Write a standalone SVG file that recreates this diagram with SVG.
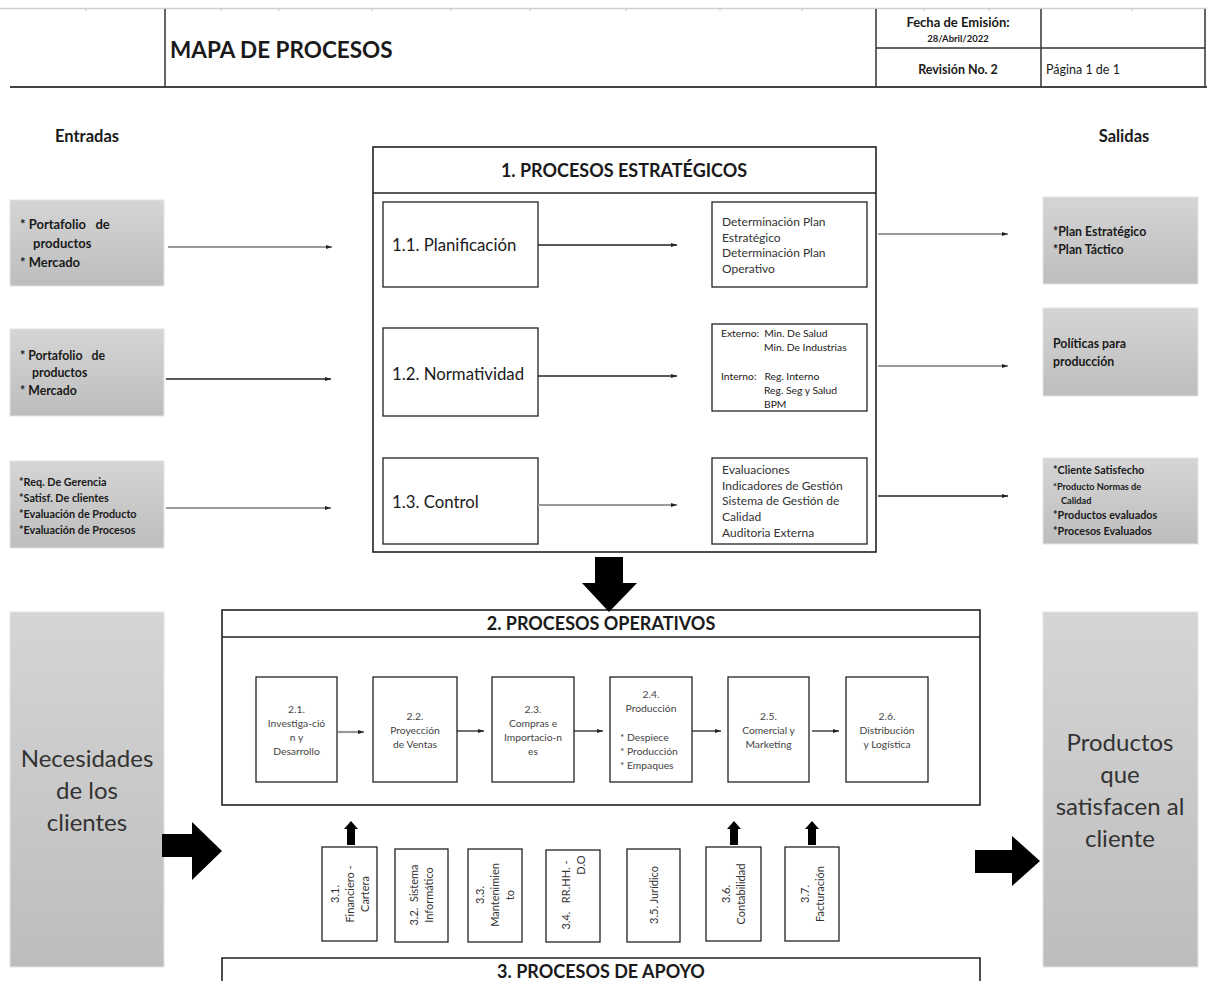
<svg xmlns="http://www.w3.org/2000/svg" width="1207" height="981" viewBox="0 0 1207 981">
<defs>
<linearGradient id="gb" x1="0" y1="0" x2="0" y2="1">
<stop offset="0" stop-color="#d5d5d5"/><stop offset="1" stop-color="#bdbdbd"/>
</linearGradient>
<marker id="ah" markerWidth="6" markerHeight="6" refX="6" refY="3" orient="auto" markerUnits="userSpaceOnUse">
<path d="M0,1 L6,3 L0,5 z" fill="#222"/>
</marker>
<style>
text{font-family:Lato,"Open Sans","Liberation Sans",sans-serif;fill:#1a1a1a;white-space:pre}
.b{font-weight:bold}
.gbox{fill:url(#gb);stroke:#e4e4e4;stroke-width:1}
.box{fill:#fff;stroke:#222;stroke-width:1.3}
.frame{fill:none;stroke:#222;stroke-width:1.6}
.lg{stroke:#9a9a9a;stroke-width:2.2;fill:none}
.ld{stroke:#222;stroke-width:1.3;fill:none}
.sm{font-size:10.3px;fill:#444}
.st{font-size:12px;fill:#333}
.su{font-size:11px;fill:#333}
.big{font-size:24px;fill:#333}
.tk{stroke:#c8c8c8;stroke-width:1}
</style>
</defs>

<g id="header">
<line x1="0" y1="8.5" x2="1207" y2="8.5" stroke="#cfcfcf" stroke-width="1.5"/>
<g class="tk">
<line x1="86" y1="8" x2="86" y2="11"/><line x1="221" y1="8" x2="221" y2="11"/><line x1="279" y1="8" x2="279" y2="11"/><line x1="372" y1="8" x2="372" y2="11"/><line x1="451" y1="8" x2="451" y2="11"/><line x1="530" y1="8" x2="530" y2="11"/><line x1="626" y1="8" x2="626" y2="11"/><line x1="720" y1="8" x2="720" y2="11"/><line x1="802" y1="8" x2="802" y2="11"/><line x1="924" y1="8" x2="924" y2="11"/><line x1="989" y1="8" x2="989" y2="11"/><line x1="1132" y1="8" x2="1132" y2="11"/>
</g>
<line x1="165" y1="9" x2="165" y2="87" stroke="#333" stroke-width="1.5"/>
<line x1="10" y1="87" x2="1207" y2="87" stroke="#444" stroke-width="2"/>
<line x1="876" y1="9" x2="876" y2="87" stroke="#333" stroke-width="1.5"/>
<line x1="1041" y1="9" x2="1041" y2="87" stroke="#333" stroke-width="1.5"/>
<line x1="1205" y1="9" x2="1205" y2="87" stroke="#333" stroke-width="1.5"/>
<line x1="876" y1="48" x2="1205" y2="48" stroke="#333" stroke-width="1.5"/>
<text x="170" y="58" class="b" font-size="22.5">MAPA DE PROCESOS</text>
<text x="958" y="27" class="b" font-size="13" text-anchor="middle">Fecha de Emisión:</text>
<text x="958" y="42" class="b" font-size="9.5" text-anchor="middle">28/Abril/2022</text>
<text x="958" y="74" class="b" font-size="12.5" text-anchor="middle">Revisión No. 2</text>
<text x="1046" y="74" font-size="12.5">Página 1 de 1</text>
</g>

<g id="labels">
<text x="87" y="142" class="b" font-size="16.5" text-anchor="middle">Entradas</text>
<text x="1124" y="142" class="b" font-size="16.5" text-anchor="middle">Salidas</text>
</g>

<g id="entrada1">
<rect x="10" y="200" width="154" height="86" class="gbox"/>
<text class="b" font-size="13"><tspan x="20" y="229">* Portafolio   de</tspan><tspan x="33" y="248">productos</tspan><tspan x="20" y="267">* Mercado</tspan></text>
</g>
<g id="entrada2">
<rect x="10" y="329" width="154" height="87" class="gbox"/>
<text class="b" font-size="12.3"><tspan x="20" y="360">* Portafolio   de</tspan><tspan x="32" y="377">productos</tspan><tspan x="20" y="395">* Mercado</tspan></text>
</g>
<g id="entrada3">
<rect x="10" y="461" width="154" height="87" class="gbox"/>
<text class="b" font-size="10.8"><tspan x="19" y="486">*Req. De Gerencia</tspan><tspan x="19" y="502">*Satisf. De clientes</tspan><tspan x="19" y="518">*Evaluación de Producto</tspan><tspan x="19" y="534">*Evaluación de Procesos</tspan></text>
</g>

<g id="estrategicos">
<rect x="373" y="147" width="503" height="405" class="frame"/>
<line x1="373" y1="193" x2="876" y2="193" stroke="#222" stroke-width="1.3"/>
<text x="624" y="177" class="b" font-size="18" text-anchor="middle">1. PROCESOS ESTRATÉGICOS</text>
</g>
<g id="p11"><rect x="383" y="202" width="155" height="85" class="box"/><text x="392" y="251" font-size="16.8">1.1. Planificación</text></g>
<g id="p12"><rect x="383" y="328" width="155" height="88" class="box"/><text x="392" y="380" font-size="16.8">1.2. Normatividad</text></g>
<g id="p13"><rect x="383" y="458" width="155" height="86" class="box"/><text x="392" y="508" font-size="16.8">1.3. Control</text></g>
<g id="r11"><rect x="712" y="202" width="155" height="85" class="box"/>
<text class="st"><tspan x="722" y="226">Determinación Plan</tspan><tspan x="722" y="242">Estratégico</tspan><tspan x="722" y="257">Determinación Plan</tspan><tspan x="722" y="273">Operativo</tspan></text></g>
<g id="r12"><rect x="712" y="324" width="155" height="87" class="box"/>
<text font-size="10.3" fill="#333"><tspan x="721" y="337">Externo:  Min. De Salud</tspan><tspan x="764" y="351">Min. De Industrias</tspan><tspan x="721" y="380">Interno:   Reg. Interno</tspan><tspan x="764" y="394">Reg. Seg y Salud</tspan><tspan x="764" y="408">BPM</tspan></text></g>
<g id="r13"><rect x="712" y="458" width="155" height="86" class="box"/>
<text class="st" font-size="12.2"><tspan x="722" y="474">Evaluaciones</tspan><tspan x="722" y="490">Indicadores de Gestión</tspan><tspan x="722" y="505">Sistema de Gestión de</tspan><tspan x="722" y="521">Calidad</tspan><tspan x="722" y="537">Auditoria Externa</tspan></text></g>

<g id="salida1"><rect x="1043" y="197" width="155" height="87" class="gbox"/>
<text class="b" font-size="12.3"><tspan x="1053" y="236">*Plan Estratégico</tspan><tspan x="1053" y="254">*Plan Táctico</tspan></text></g>
<g id="salida2"><rect x="1043" y="308" width="155" height="88" class="gbox"/>
<text class="b" font-size="12.3"><tspan x="1053" y="348">Políticas para</tspan><tspan x="1053" y="366">producción</tspan></text></g>
<g id="salida3"><rect x="1043" y="458" width="155" height="86" class="gbox"/>
<text class="b" font-size="10.8"><tspan x="1053" y="474">*Cliente Satisfecho</tspan><tspan x="1053" y="490" font-size="9.2">*Producto Normas de</tspan><tspan x="1061" y="504" font-size="9.2">Calidad</tspan><tspan x="1053" y="519">*Productos evaluados</tspan><tspan x="1053" y="535">*Procesos Evaluados</tspan></text></g>

<g id="operativos">
<rect x="222" y="610" width="758" height="195" class="frame"/>
<line x1="222" y1="637" x2="980" y2="637" stroke="#222" stroke-width="1.3"/>
<text x="601" y="630" class="b" font-size="18" text-anchor="middle">2. PROCESOS OPERATIVOS</text>
</g>
<g id="p21"><rect x="256" y="677" width="81" height="105" class="box"/>
<text class="sm" text-anchor="middle"><tspan x="296.5" y="713">2.1.</tspan><tspan x="296.5" y="727">Investiga-ció</tspan><tspan x="296.5" y="741">n y</tspan><tspan x="296.5" y="755">Desarrollo</tspan></text></g>
<g id="p22"><rect x="373" y="677" width="84" height="105" class="box"/>
<text class="sm" text-anchor="middle"><tspan x="415" y="720">2.2.</tspan><tspan x="415" y="734">Proyección</tspan><tspan x="415" y="748">de Ventas</tspan></text></g>
<g id="p23"><rect x="492" y="677" width="82" height="105" class="box"/>
<text class="sm" text-anchor="middle"><tspan x="533" y="713">2.3.</tspan><tspan x="533" y="727">Compras e</tspan><tspan x="533" y="741">Importacio-n</tspan><tspan x="533" y="755">es</tspan></text></g>
<g id="p24"><rect x="610" y="677" width="82" height="105" class="box"/>
<text class="sm" text-anchor="middle"><tspan x="651" y="698">2.4.</tspan><tspan x="651" y="712">Producción</tspan></text>
<text class="sm"><tspan x="620" y="741">* Despiece</tspan><tspan x="620" y="755">* Producción</tspan><tspan x="620" y="769">* Empaques</tspan></text></g>
<g id="p25"><rect x="728" y="677" width="81" height="105" class="box"/>
<text class="sm" text-anchor="middle"><tspan x="768.5" y="720">2.5.</tspan><tspan x="768.5" y="734">Comercial y</tspan><tspan x="768.5" y="748">Marketing</tspan></text></g>
<g id="p26"><rect x="846" y="677" width="82" height="105" class="box"/>
<text class="sm" text-anchor="middle"><tspan x="887" y="720">2.6.</tspan><tspan x="887" y="734">Distribución</tspan><tspan x="887" y="748">y Logística</tspan></text></g>

<g id="necesidades"><rect x="10" y="612" width="154" height="355" class="gbox"/>
<text class="big" text-anchor="middle"><tspan x="87" y="767">Necesidades</tspan><tspan x="87" y="799">de los</tspan><tspan x="87" y="831">clientes</tspan></text></g>
<g id="productos"><rect x="1043" y="612" width="155" height="355" class="gbox"/>
<text class="big" text-anchor="middle"><tspan x="1120" y="751">Productos</tspan><tspan x="1120" y="783">que</tspan><tspan x="1120" y="815">satisfacen al</tspan><tspan x="1120" y="847">cliente</tspan></text></g>

<g id="s31"><rect x="322" y="847" width="55" height="94" class="box"/>
<text class="su" text-anchor="middle" transform="translate(350,894) rotate(-90)"><tspan x="0" y="-11">3.1.</tspan><tspan x="0" y="4">Financiero -</tspan><tspan x="0" y="19">Cartera</tspan></text></g>
<g id="s32"><rect x="395" y="849" width="53" height="93" class="box"/>
<text class="su" text-anchor="middle" transform="translate(421,895) rotate(-90)"><tspan x="0" y="-3">3.2.  Sistema</tspan><tspan x="0" y="12">Informático</tspan></text></g>
<g id="s33"><rect x="468" y="849" width="54" height="93" class="box"/>
<text class="su" text-anchor="middle" transform="translate(495,895) rotate(-90)"><tspan x="0" y="-11">3.3.</tspan><tspan x="0" y="4">Mantenimien</tspan><tspan x="0" y="19">to</tspan></text></g>
<g id="s34"><rect x="546" y="850" width="54" height="92" class="box"/>
<text class="su" transform="translate(573,895) rotate(-90)"><tspan x="0" y="-3" text-anchor="middle">3.4.   RR.HH. -</tspan><tspan x="30" y="12" text-anchor="middle">D.O</tspan></text></g>
<g id="s35"><rect x="627" y="849" width="53" height="93" class="box"/>
<text class="su" text-anchor="middle" transform="translate(654,895) rotate(-90)"><tspan x="0" y="4">3.5. Jurídico</tspan></text></g>
<g id="s36"><rect x="706" y="847" width="55" height="94" class="box"/>
<text class="su" text-anchor="middle" transform="translate(733,894) rotate(-90)"><tspan x="0" y="-3">3.6.</tspan><tspan x="0" y="12">Contabilidad</tspan></text></g>
<g id="s37"><rect x="785" y="847" width="54" height="94" class="box"/>
<text class="su" text-anchor="middle" transform="translate(812,894) rotate(-90)"><tspan x="0" y="-3">3.7.</tspan><tspan x="0" y="12">Facturación</tspan></text></g>

<g id="apoyo">
<path d="M222,981 V958 H980 V981" class="frame"/>
<text x="601" y="978" class="b" font-size="18" text-anchor="middle">3. PROCESOS DE APOYO</text>
</g>

<g id="connectors">
<line x1="168" y1="247" x2="332" y2="247" class="lg" marker-end="url(#ah)"/>
<line x1="166" y1="379" x2="331" y2="379" class="ld" marker-end="url(#ah)"/>
<line x1="166" y1="508" x2="331" y2="508" class="lg" marker-end="url(#ah)"/>
<line x1="538" y1="245" x2="677" y2="245" class="ld" marker-end="url(#ah)"/>
<line x1="538" y1="376" x2="677" y2="376" class="ld" marker-end="url(#ah)"/>
<line x1="538" y1="505" x2="677" y2="505" class="lg" marker-end="url(#ah)"/>
<line x1="878" y1="234" x2="1008" y2="234" class="lg" marker-end="url(#ah)"/>
<line x1="878" y1="366" x2="1008" y2="366" class="lg" marker-end="url(#ah)"/>
<line x1="878" y1="496" x2="1008" y2="496" class="ld" marker-end="url(#ah)"/>
<line x1="338" y1="732" x2="364" y2="732" class="lg" stroke-width="1.8" marker-end="url(#ah)"/>
<line x1="457" y1="731" x2="484" y2="731" class="ld" marker-end="url(#ah)"/>
<line x1="574" y1="731" x2="603" y2="731" class="ld" marker-end="url(#ah)"/>
<line x1="692" y1="731" x2="721" y2="731" class="ld" marker-end="url(#ah)"/>
<line x1="812" y1="731" x2="839" y2="731" class="ld" marker-end="url(#ah)"/>
<polygon points="595,557 623,557 623,583 637,583 609,612 582,583 595,583" fill="#000"/>
<polygon points="162,834 192,834 192,822 222,851 192,880 192,857 162,857" fill="#000"/>
<polygon points="975,850 1012,850 1012,836 1040,861 1012,886 1012,873 975,873" fill="#000"/>
<polygon points="347,845 347,829 344,829 351,821 358,829 355,829 355,845" fill="#000"/>
<polygon points="730,845 730,829 727,829 734,821 741,829 738,829 738,845" fill="#000"/>
<polygon points="808,845 808,829 805,829 812,821 819,829 816,829 816,845" fill="#000"/>
</g>
</svg>
